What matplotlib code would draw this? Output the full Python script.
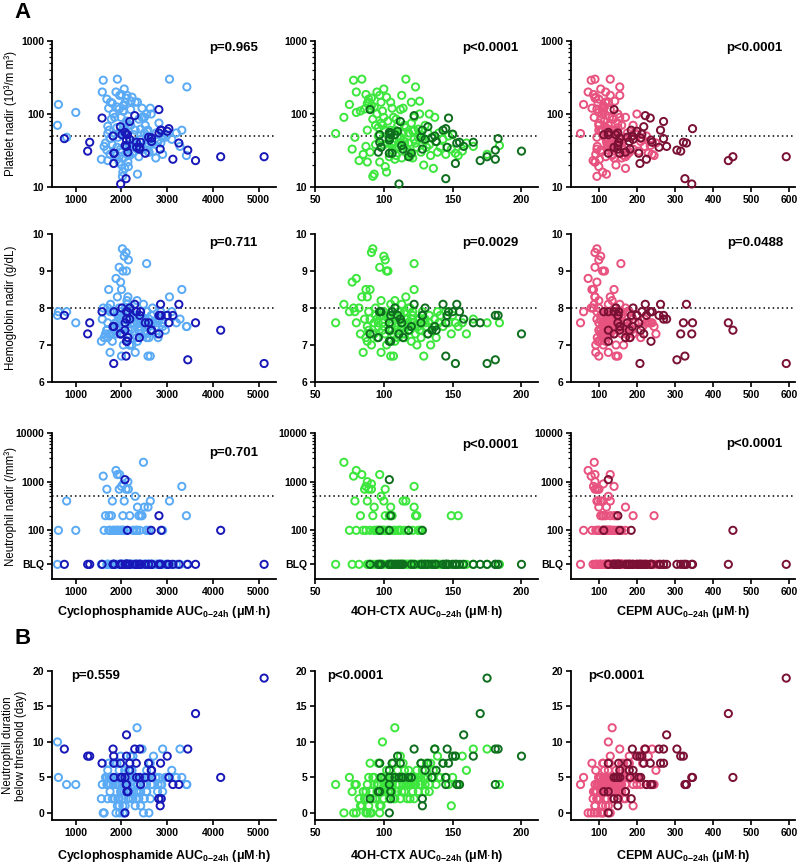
import numpy as np
import matplotlib
matplotlib.use("Agg")
import matplotlib.pyplot as plt
from matplotlib.ticker import LogLocator, NullFormatter

plt.rcParams["font.family"] = ["Liberation Sans", "DejaVu Sans"]
plt.rcParams["mathtext.fontset"] = "custom"
plt.rcParams["mathtext.rm"] = "Liberation Sans:bold"
plt.rcParams["mathtext.it"] = "Liberation Sans:bold"
plt.rcParams["mathtext.bf"] = "Liberation Sans:bold"

# ---- light (open, pale) patients ----
cyc_light = [1700, 2480, 620, 1600, 600, 1880, 800, 1000, 1910, 1700, 2030, 1750, 1950, 1620, 2000,
             2140, 1800, 2040, 1680, 2080, 1720, 2600, 2100, 2040, 1780, 2020, 2350, 1900, 2200, 2550,
             1580, 1820, 1950, 1960, 2120, 2300, 1980, 2420, 2060, 1850, 2150, 1730, 2030, 2230, 2110,
             2000, 2380, 1760, 2580, 2160, 2450, 1990, 2630, 2340, 2300, 1870, 2550, 1700, 2400, 2860,
             2200, 1920, 2750, 2120, 2500, 2630, 1800, 2330, 2040, 3050, 2250, 1950, 2680, 2150, 2820,
             2350, 2050, 3320, 2500, 1650, 3430, 2180, 2900, 2420, 1820, 2600, 2270, 3100,
             2000, 2520, 1900, 2760, 2340, 2650, 2180, 2960, 2070, 2450, 2800, 1980, 3200, 2300, 2600,
             2130, 2880, 2420, 3000, 2250, 3420, 2700, 2550, 3280, 2900, 2350, 2550,
             1900, 2250, 2380, 1750, 2480, 2050, 2560, 1680, 2150, 2320, 2790, 1560, 2210, 1950, 2600]
oh_light = [65, 71, 75, 78, 99, 80, 79, 80, 84, 82, 83, 85, 86, 87, 87,
            88, 88, 88, 89, 89, 90, 90, 91, 91, 92, 92, 93, 93, 94, 95,
            95, 96, 97, 97, 98, 98, 77, 99, 100, 100, 101, 101, 102, 102, 103,
            104, 104, 105, 105, 106, 106, 107, 107, 108, 108, 109, 110, 110, 111, 111,
            112, 112, 113, 113, 114, 114, 115, 115, 116, 116, 117, 118, 118, 119, 120,
            120, 121, 122, 122, 123, 123, 124, 125, 125, 126, 127, 127, 128,
            129, 130, 131, 132, 133, 133, 134, 135, 136, 137, 138, 139, 140, 141, 143,
            145, 147, 149, 150, 152, 154, 157, 160, 165, 175, 184, 122,
            96, 103, 109, 112, 117, 99, 121, 106, 115, 94, 130, 108, 126, 119, 100]
cepm_light = [52, 88, 60, 80, 125, 72, 95, 100, 90, 85, 110, 92, 95, 96, 86,
              90, 98, 110, 100, 118, 82, 105, 90, 112, 105, 95, 120, 115, 100, 108,
              118, 112, 90, 130, 100, 125, 95, 120, 105, 135, 100, 140, 110, 92, 115,
              130, 118, 125, 100, 140, 112, 128, 150, 135, 105, 135, 145, 115, 125, 160,
              130, 118, 140, 155, 128, 110, 142, 120, 150, 130, 165, 125, 145, 135, 150,
              118, 160, 140, 170, 130, 155, 145, 170, 125, 150, 180, 140, 160,
              145, 190, 160, 175, 150, 200, 165, 185, 170, 155, 210, 180, 195, 160, 215,
              175, 225, 190, 200, 230, 245, 205, 250, 220, 240, 235, 158,
              118, 128, 138, 120, 132, 112, 148, 105, 160, 122, 135, 102, 142, 170, 130]
plt_light = [54, 90, 135, 290, 70, 200, 48, 105, 300, 23, 110, 28, 117, 36, 185,
             22, 140, 60, 160, 145, 120, 30, 165, 130, 85, 14, 15, 125, 70, 100,
             200, 50, 22, 180, 75, 145, 33, 45, 220, 90, 19, 60, 16, 170, 80,
             55, 26, 145, 60, 38, 120, 90, 42, 33, 60, 27, 50, 68, 35, 40,
             115, 48, 25, 180, 55, 120, 38, 42, 65, 300, 30, 55, 40, 28, 75,
             145, 25, 60, 90, 40, 235, 35, 48, 62, 100, 30, 52, 45,
             20, 70, 35, 55, 38, 100, 27, 48, 18, 90, 42, 30, 55, 35, 45,
             28, 50, 33, 52, 29, 27, 31, 40, 36, 28, 37, 45,
             65, 40, 85, 46, 33, 110, 58, 32, 70, 38, 44, 24, 150, 26, 38]
hb_light = [7.6, 8.1, 7.9, 8.0, 7.8, 8.8, 7.9, 7.6, 8.3, 8.0, 7.3, 6.8, 7.7, 7.2, 8.5,
            8.3, 7.1, 7.5, 7.4, 7.9, 8.5, 7.7, 9.5, 7.0, 7.3, 9.6, 7.6, 7.3, 8.0, 7.2,
            7.7, 7.5, 9.1, 7.8, 8.2, 6.8, 8.7, 7.4, 9.4, 7.9, 9.3, 7.3, 9.0, 7.0, 9.0,
            7.7, 7.4, 8.1, 6.7, 7.9, 7.6, 7.3, 6.7, 8.2, 7.8, 7.6, 7.5, 7.2, 7.7, 7.9,
            7.4, 7.8, 7.5, 8.1, 7.3, 7.6, 7.9, 7.2, 7.7, 8.3, 7.6, 7.5, 8.0, 7.4, 7.7,
            7.1, 7.8, 8.5, 7.6, 7.3, 7.5, 7.0, 7.5, 7.7, 7.4, 7.2, 7.6, 7.9,
            6.7, 7.7, 7.5, 7.3, 7.6, 7.8, 7.0, 7.4, 7.5, 7.7, 7.2, 7.9, 7.6, 7.8, 7.5,
            7.9, 7.6, 7.3, 7.8, 7.6, 7.5, 7.6, 7.3, 7.7, 7.6, 7.6, 9.2,
            7.6, 7.8, 7.5, 7.9, 7.7, 7.6, 7.9, 7.4, 7.3, 7.8, 7.6, 7.1, 7.7, 8.0, 7.5]
# 0 = below limit of quantification (BLQ)
anc_light = [0, 2500, 100, 1300, 0, 1700, 400, 100, 1400, 0, 200, 100, 700, 100, 800,
             1000, 400, 0, 700, 0, 100, 0, 700, 900, 200, 0, 300, 100, 0, 100,
             0, 100, 0, 1400, 100, 500, 0, 0, 400, 100, 700, 200, 100, 0, 0,
             100, 200, 0, 300, 0, 200, 100, 0, 100, 0, 0, 100, 0, 100, 0,
             0, 100, 0, 0, 0, 400, 0, 100, 0, 400, 0, 100, 0, 0, 0,
             0, 100, 800, 300, 200, 0, 200, 100, 0, 100, 0, 100, 0,
             0, 0, 0, 0, 0, 0, 0, 0, 0, 0, 0, 0, 0, 0, 0,
             0, 0, 200, 0, 0, 200, 0, 0, 0, 0, 0, 0,
             100, 100, 0, 100, 0, 100, 0, 0, 0, 100, 0, 0, 0, 0, 100]
dur_light = [4, 0, 5, 0, 10, 0, 4, 4, 1, 2, 1, 3, 2, 0, 3,
             4, 2, 0, 5, 1, 7, 0, 3, 0, 5, 2, 4, 5, 2, 3,
             4, 7, 1, 0, 5, 1, 3, 3, 5, 2, 4, 5, 4, 6, 3,
             5, 2, 4, 5, 3, 5, 7, 2, 12, 5, 4, 3, 6, 5, 4,
             8, 2, 5, 3, 4, 7, 5, 3, 4, 5, 2, 6, 4, 2, 5,
             4, 3, 5, 2, 5, 4, 6, 3, 5, 4, 7, 4, 6,
             5, 4, 7, 5, 3, 4, 7, 5, 6, 9, 4, 8, 5, 5, 7,
             5, 4, 1, 5, 8, 4, 8, 6, 9, 9, 4, 4,
             4, 4, 3, 5, 4, 3, 5, 4, 6, 2, 3, 2, 5, 4, 5]

# ---- dark (subgroup) patients ----
cyc_dark = [5120, 3620, 4170, 2110, 3450, 2290, 2400, 1815, 750, 1260, 1305, 1830, 2110, 3000, 1575,
            1836, 1975, 2180, 2323, 2593, 2855, 2180, 2658, 1836, 2010, 2080, 2330, 2390, 2520, 2658,
            3036, 3255, 2110, 2418, 3124, 2140, 2120, 2818, 2847, 2076, 1982, 2100, 2820, 2130, 2650, 2870]
oh_dark = [175, 170, 118, 158, 181, 122, 146, 137, 183, 200, 165, 152, 150, 110, 147,
           106, 132, 112, 97, 127, 143, 130, 138, 120, 108, 113, 98, 114, 104, 135,
           145, 153, 104, 155, 181, 96, 105, 90, 128, 104, 111, 145, 105, 97, 104, 128]
cepm_dark = [592, 440, 452, 278, 305, 222, 258, 188, 270, 315, 322, 208, 213, 200, 235,
             125, 218, 270, 152, 175, 262, 190, 180, 155, 145, 150, 140, 182, 205, 210,
             346, 330, 237, 240, 225, 170, 125, 140, 150, 125, 344, 326, 150, 113, 155, 185]
plt_dark = [26, 23, 26, 36, 32, 95, 35, 50, 46, 31, 41, 21, 53, 58, 88,
            29, 67, 79, 41, 48, 60, 45, 42, 29, 52, 37, 35, 33, 29, 47,
            63, 40, 44, 41, 24, 30, 52, 115, 33, 56, 11, 13, 55, 52, 47, 60]
hb_dark = [6.5, 7.6, 7.4, 7.7, 6.6, 8.1, 7.8, 7.5, 7.8, 7.3, 7.6, 6.5, 7.9, 7.8, 7.9,
           7.9, 7.3, 7.7, 7.9, 7.6, 8.1, 8.0, 7.4, 7.5, 8.0, 7.6, 7.9, 7.2, 7.6, 7.4,
           7.6, 8.1, 7.1, 7.9, 7.8, 7.2, 7.1, 7.3, 7.8, 7.4, 7.3, 6.7, 7.8, 7.9, 7.4, 7.8]
anc_dark = [0, 0, 100, 0, 0, 0, 0, 0, 0, 0, 0, 0, 0, 0, 0,
            0, 0, 0, 0, 0, 0, 0, 0, 0, 0, 0, 0, 0, 0, 0,
            0, 0, 0, 0, 0, 0, 0, 0, 0, 1100, 0, 0, 200, 100, 100, 100]
dur_dark = [19, 14, 5, 11, 9, 9, 9, 9, 9, 8, 8, 8, 8, 8, 7,
            7, 7, 7, 7, 7, 7, 6, 6, 5, 5, 5, 5, 5, 5, 5,
            5, 4, 4, 4, 4, 3, 3, 2, 1, 0, 5, 4, 2, 3, 6, 2]

p_values = [["p=0.965", "p<0.0001", "p<0.0001"],
            ["p=0.711", "p=0.0029", "p=0.0488"],
            ["p=0.701", "p<0.0001", "p<0.0001"],
            ["p=0.559", "p<0.0001", "p<0.0001"]]

x_names = ["Cyclophosphamide", "4OH-CTX", "CEPM"]
y_labels = ["Platelet nadir (10\u00b3/m m\u00b3)", "Hemoglobin nadir (g/dL)",
            "Neutrophil nadir (/mm\u00b3)", "Neutrophil duration\nbelow threshold (day)"]

light_cols = ["#5aaaf5", "#3de63d", "#e8527f"]
dark_cols = ["#1818b8", "#0e6e1e", "#7a1034"]

xs_light = [cyc_light, oh_light, cepm_light]
xs_dark = [cyc_dark, oh_dark, cepm_dark]
anc_l = np.array(anc_light, float)
anc_d = np.array(anc_dark, float)
ys_light = [plt_light, hb_light, np.where(anc_l == 0, 20, anc_l), dur_light]
ys_dark = [plt_dark, hb_dark, np.where(anc_d == 0, 20, anc_d), dur_dark]

W, H = 800, 864
col_left = [52, 315, 571]
col_w = [224, 223, 224]
row_top = [41, 234, 433, 671]
row_bot = [187, 382, 579, 820]
xlims = [(480, 5380), (50, 212), (27, 615)]
xticks = [[1000, 2000, 3000, 4000, 5000], [50, 100, 150, 200], [100, 200, 300, 400, 500, 600]]
thresholds = [50, 8, 500, None]

# p-text positions (axes fraction) per row/col
p_pos = [[(0.92, 0.955), (0.91, 0.955), (0.945, 0.955)],
         [(0.915, 0.94), (0.91, 0.94), (0.946, 0.94)],
         [(0.92, 0.865), (0.91, 0.92), (0.946, 0.925)],
         [(0.085, 0.965), (0.054, 0.965), (0.076, 0.965)]]

fig = plt.figure(figsize=(W / 100, H / 100), dpi=100)

for r in range(4):
    for c in range(3):
        ax = fig.add_axes([col_left[c] / W, 1 - row_bot[r] / H,
                           col_w[c] / W, (row_bot[r] - row_top[r]) / H])
        ax.scatter(xs_light[c], ys_light[r], s=27, facecolors="none",
                   edgecolors=light_cols[c], linewidths=1.4, zorder=3, clip_on=False)
        ax.scatter(xs_dark[c], ys_dark[r], s=27, facecolors="none",
                   edgecolors=dark_cols[c], linewidths=1.4, zorder=4, clip_on=False)
        if thresholds[r] is not None:
            ax.axhline(thresholds[r], color="black", ls=(0, (1, 2)), lw=1.1, zorder=2)

        ax.set_xlim(*xlims[c])
        ax.set_xticks(xticks[c], [str(t) for t in xticks[c]], fontweight="bold")

        if r == 0:
            ax.set_yscale("log")
            ax.set_ylim(10, 1000)
            ax.set_yticks([10, 100, 1000], ["10", "100", "1000"], fontweight="bold")
        elif r == 1:
            ax.set_ylim(6, 10)
            ax.set_yticks([6, 7, 8, 9, 10], ["6", "7", "8", "9", "10"], fontweight="bold")
        elif r == 2:
            ax.set_yscale("log")
            ax.set_ylim(10, 10000)
            ax.set_yticks([20, 100, 1000, 10000], ["BLQ", "100", "1000", "10000"], fontweight="bold")
        else:
            ax.set_ylim(-1, 20)
            ax.set_yticks([0, 5, 10, 15, 20], ["0", "5", "10", "15", "20"], fontweight="bold")
        if r in (0, 2):
            ax.yaxis.set_minor_locator(LogLocator(base=10, subs=np.arange(2, 10) * 1.0, numticks=20))
            ax.yaxis.set_minor_formatter(NullFormatter())

        for s in ("top", "right"):
            ax.spines[s].set_visible(False)
        for s in ("left", "bottom"):
            ax.spines[s].set_linewidth(1.3)
        ax.tick_params(which="major", direction="out", length=3.5, width=1.2,
                       labelsize=7.5, pad=2)
        ax.tick_params(which="minor", direction="out", length=2, width=0.9)

        px, py = p_pos[r][c]
        ax.text(px, py, p_values[r][c], transform=ax.transAxes, fontsize=9.5,
                fontweight="bold", ha="left" if r == 3 else "right", va="center")

        if c == 0:
            ax.set_ylabel(y_labels[r], fontsize=8.3, ha="center", linespacing=1.15)
            ax.yaxis.set_label_coords(-0.11 if r == 3 else -0.155, 0.5)
        if r in (2, 3):
            ax.set_xlabel(x_names[c] + r" AUC$_{0{-}24h}$ ($\mu$M$\cdot$h)",
                          fontsize=9, fontweight="bold")
            ax.xaxis.set_label_coords(0.5, -0.17 if r == 2 else -0.19)

fig.text(14 / W, 1 - 12 / H, "A", fontsize=16, fontweight="bold", va="center", ha="left")
fig.text(14 / W, 1 - 638 / H, "B", fontsize=16, fontweight="bold", va="center", ha="left")

fig.savefig("out.png", dpi=100)
